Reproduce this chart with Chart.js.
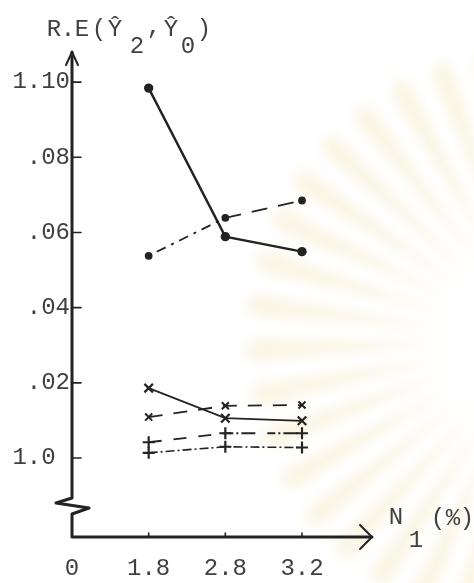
<!DOCTYPE html>
<html>
<head>
<meta charset="utf-8">
<script src="https://cdn.jsdelivr.net/npm/chart.js@4/dist/chart.umd.min.js"></script>
<style>
  html, body { margin: 0; padding: 0; background: #ffffff; }
  #wrap { width: 474px; height: 583px; position: relative; }
</style>
</head>
<body>
<div id="wrap"><canvas id="c" width="474" height="583"></canvas></div>
<script>
// N1 (%) categories; the first one is the origin and carries no value
const categories = ['0', '1.8', '2.8', '3.2'];

// relative efficiency R.E(Y2, Y0) per series
const seriesDotSolid    = [null, 1.0984, 1.0589, 1.0549];
const seriesDotDashDot  = [null, 1.0538, 1.0639, 1.0685];
const seriesCrossSolid  = [null, 1.0186, 1.0106, 1.0099];
const seriesCrossDashed = [null, 1.0109, 1.0139, 1.0141];
const seriesPlusDashed  = [null, 1.0042, 1.0066, 1.0066];
const seriesPlusDotted  = [null, 1.0014, 1.0030, 1.0028];

// vertical axis ticks and their printed labels
const yTickValues = [1.00, 1.02, 1.04, 1.06, 1.08, 1.10];
const yTickLabels = ['1.0 ', '.02', '.04', '.06', '.08', '1.10'];

const INK = '#232323';
const TEXT = '#404040';
const MONO = '"Liberation Mono", "DejaVu Sans Mono", monospace';

// faint sunburst seal printed behind the plot
const sealPlugin = {
  id: 'seal',
  beforeDraw(chart) {
    const ctx = chart.ctx;
    ctx.save();
    ctx.filter = 'blur(6px)';
    const cx = 540, cy = 340;
    for (let a = 92; a <= 270; a += 9) {
      const t = a * Math.PI / 180;
      const r0 = 95, r1 = 285;
      const w = 0.04;
      ctx.beginPath();
      ctx.moveTo(cx + r0 * Math.cos(t), cy - r0 * Math.sin(t));
      ctx.lineTo(cx + r1 * Math.cos(t - w), cy - r1 * Math.sin(t - w));
      ctx.lineTo(cx + (r1 + 14) * Math.cos(t), cy - (r1 + 14) * Math.sin(t));
      ctx.lineTo(cx + r1 * Math.cos(t + w), cy - r1 * Math.sin(t + w));
      ctx.closePath();
      ctx.fillStyle = 'rgba(245, 236, 205, 0.55)';
      ctx.fill();
    }
    ctx.restore();
  }
};

// hand-drawn style axes: arrows, broken vertical axis, inward ticks, titles
const axesPlugin = {
  id: 'axesDrawn',
  beforeDatasetsDraw(chart) {
    const ctx = chart.ctx;
    const xs = chart.scales.x, ys = chart.scales.y;
    const x0 = xs.getPixelForValue(0);
    const yTop = chart.chartArea.top;
    const yBot = chart.chartArea.bottom;
    const xEnd = 372;

    ctx.save();
    ctx.strokeStyle = INK;
    ctx.lineCap = 'round';
    ctx.lineJoin = 'round';

    // vertical axis with break
    ctx.lineWidth = 3;
    ctx.beginPath();
    ctx.moveTo(x0, yTop);
    ctx.lineTo(x0, 498);
    ctx.lineTo(x0 - 16, 503);
    ctx.lineTo(x0 + 17, 508);
    ctx.lineTo(x0, 514);
    ctx.lineTo(x0, yBot);
    ctx.lineTo(xEnd, yBot);
    ctx.stroke();

    // arrow heads
    ctx.lineWidth = 2;
    ctx.beginPath();
    ctx.moveTo(x0 - 6, yTop + 13);
    ctx.lineTo(x0, yTop);
    ctx.lineTo(x0 + 6, yTop + 13);
    ctx.moveTo(xEnd - 12, yBot - 12);
    ctx.lineTo(xEnd, yBot);
    ctx.lineTo(xEnd - 12, yBot + 12);
    ctx.stroke();

    // inward ticks on the vertical axis
    ctx.lineWidth = 1.6;
    ctx.beginPath();
    yTickValues.forEach(v => {
      const py = ys.getPixelForValue(v);
      ctx.moveTo(x0, py);
      ctx.lineTo(x0 + 9, py);
    });
    // small ticks on the horizontal axis
    for (let i = 1; i < categories.length; i++) {
      const px = xs.getPixelForValue(i);
      ctx.moveTo(px, yBot);
      ctx.lineTo(px, yBot - 4);
    }
    ctx.stroke();

    // axis titles with subscripts
    ctx.fillStyle = TEXT;
    ctx.font = '24px ' + MONO;
    ctx.textBaseline = 'middle';
    ctx.textAlign = 'center';
    const title = [
      ['R', 54, 30], ['.', 68, 30], ['E', 82, 30], ['(', 99, 30],
      ['Ŷ', 115, 30], ['2', 137, 47], [',', 154, 28],
      ['Ŷ', 171, 30], ['0', 188, 47], [')', 204, 30]
    ];
    title.forEach(([ch, x, y]) => ctx.fillText(ch, x, y));

    const xTitle = [
      ['N', 396, 518], ['1', 416, 541], ['(', 438, 519], ['%', 453, 519], [')', 467, 519]
    ];
    xTitle.forEach(([ch, x, y]) => ctx.fillText(ch, x, y));
    ctx.restore();
  }
};

function lineSet(data, opts) {
  return Object.assign({
    data: data,
    borderColor: INK,
    backgroundColor: INK,
    pointBorderColor: INK,
    pointBackgroundColor: INK,
    borderWidth: 1.8,
    tension: 0,
    fill: false,
    clip: false
  }, opts);
}

new Chart(document.getElementById('c'), {
  type: 'line',
  data: {
    labels: categories,
    datasets: [
      lineSet(seriesDotSolid, {
        borderWidth: 2.4, pointStyle: 'circle', pointRadius: 3.5
      }),
      lineSet(seriesDotDashDot, {
        pointStyle: 'circle', pointRadius: 3,
        segment: { borderDash: c => c.p0DataIndex === 1 ? [3, 6, 10, 6] : [16, 11] }
      }),
      lineSet(seriesCrossSolid, {
        pointStyle: 'crossRot', pointRadius: 6, pointBorderWidth: 2.2
      }),
      lineSet(seriesCrossDashed, {
        pointStyle: 'crossRot', pointRadius: 5, pointBorderWidth: 2,
        borderDash: [14, 11]
      }),
      lineSet(seriesPlusDashed, {
        pointStyle: 'cross', pointRadius: 6, pointBorderWidth: 2.2,
        segment: { borderDash: c => c.p0DataIndex === 1 ? [13, 12] : [8, 3, 2, 3, 14, 12] }
      }),
      lineSet(seriesPlusDotted, {
        pointStyle: 'cross', pointRadius: 6, pointBorderWidth: 2.2,
        borderWidth: 1.6, borderDash: [9, 3, 2, 3]
      })
    ]
  },
  options: {
    responsive: false,
    animation: false,
    events: [],
    layout: { padding: { top: 52, right: 172, left: 0, bottom: 0 } },
    plugins: {
      legend: { display: false },
      tooltip: { enabled: false },
      title: { display: false }
    },
    scales: {
      x: {
        type: 'category',
        offset: false,
        border: { display: false },
        grid: { display: false, drawTicks: false },
        ticks: {
          color: TEXT,
          font: { family: MONO, size: 24 },
          padding: 17,
          maxRotation: 0,
          autoSkip: false
        },
        afterFit(scale) { scale.height = 46; }
      },
      y: {
        type: 'linear',
        min: 0.979,
        max: 1.108,
        border: { display: false },
        grid: { display: false, drawTicks: false },
        afterBuildTicks(scale) {
          scale.ticks = yTickValues.map(v => ({ value: v }));
        },
        ticks: {
          color: TEXT,
          font: { family: MONO, size: 24 },
          padding: 2,
          callback(value) {
            const i = yTickValues.findIndex(t => Math.abs(t - value) < 1e-6);
            return i >= 0 ? yTickLabels[i] : '';
          }
        },
        afterFit(scale) { scale.width = 72; }
      }
    }
  },
  plugins: [sealPlugin, axesPlugin]
});
</script>
</body>
</html>
